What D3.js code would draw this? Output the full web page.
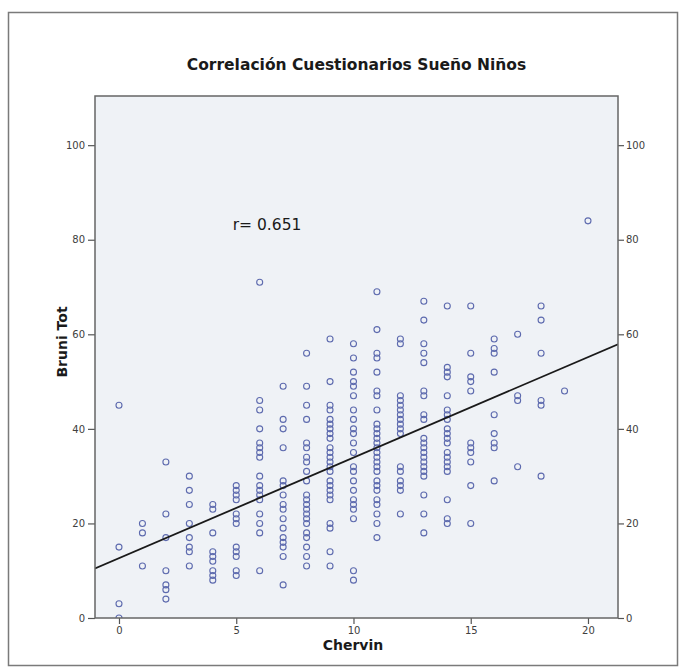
<!DOCTYPE html>
<html>
<head>
<meta charset="utf-8">
<script src="https://cdn.jsdelivr.net/npm/d3@7"></script>
<style>
  html, body { margin: 0; padding: 0; background: #ffffff; }
  svg { display: block; }
  .tick text { font-family: "DejaVu Sans", sans-serif; font-size: 10px; fill: #404040; }
</style>
</head>
<body>
<svg id="chart" width="686" height="669"></svg>
<script>
// Chervin score levels (x) and the Bruni Tot scores observed at each level (y)
const chervinLevels = [0, 1, 2, 3, 4, 5, 6, 7, 8, 9, 10, 11, 12, 13, 14, 15, 16, 17, 18, 19, 20];
const bruniByChervin = [
  [45, 15, 3, 0],
  [20, 18, 11],
  [33, 22, 17, 10, 7, 6, 4],
  [30, 27, 24, 20, 17, 15, 14, 11],
  [24, 23, 18, 14, 13, 12, 10, 9, 8],
  [28, 27, 26, 25, 22, 21, 20, 15, 14, 13, 10, 9],
  [71, 46, 44, 40, 37, 36, 35, 34, 30, 28, 27, 26, 25, 22, 20, 18, 10],
  [49, 42, 40, 36, 29, 28, 26, 24, 23, 21, 19, 17, 16, 15, 13, 7],
  [56, 49, 45, 42, 37, 36, 34, 33, 31, 29, 26, 25, 24, 23, 22, 21, 20, 18, 17, 15, 13, 11],
  [59, 50, 45, 44, 42, 41, 40, 39, 38, 36, 35, 34, 33, 32, 31, 29, 28, 27, 26, 25, 20, 19, 14, 11],
  [58, 55, 52, 50, 49, 47, 44, 42, 40, 39, 37, 35, 32, 31, 29, 27, 25, 24, 23, 21, 10, 8],
  [69, 61, 56, 55, 52, 48, 47, 44, 41, 40, 39, 38, 37, 36, 35, 34, 33, 32, 31, 29, 28, 27, 25, 24, 22, 20, 17],
  [59, 58, 47, 46, 45, 44, 43, 42, 41, 40, 39, 32, 31, 29, 28, 27, 22],
  [67, 63, 58, 56, 54, 48, 47, 43, 42, 38, 37, 36, 35, 34, 33, 32, 31, 30, 26, 22, 18],
  [66, 53, 52, 51, 47, 44, 43, 42, 40, 39, 38, 37, 35, 34, 33, 32, 31, 25, 21, 20],
  [66, 56, 51, 50, 48, 37, 36, 35, 33, 28, 20],
  [59, 57, 56, 52, 43, 39, 37, 36, 29],
  [60, 47, 46, 32],
  [66, 63, 56, 46, 45, 30],
  [48],
  [84]
];

// Axis ticks and labels
const xTicks = [0, 5, 10, 15, 20];
const yTicks = [0, 20, 40, 60, 80, 100];
const titleText = "Correlación Cuestionarios Sueño Niños";
const xTitle = "Chervin";
const yTitle = "Bruni Tot";
const rLabel = "r= 0.651";

const points = chervinLevels.flatMap((c, i) => bruniByChervin[i].map(b => ({ x: c, y: b })));

const svg = d3.select("#chart");
const plot = { left: 95, right: 618, top: 96, bottom: 618 };

// Scales
const x = d3.scaleLinear().domain([-1.023, 21.28]).range([plot.left, plot.right]);
const y = d3.scaleLinear().domain([0, 110.4]).range([plot.bottom, plot.top]);

// Outer frame
svg.append("rect")
  .attr("x", 8.5).attr("y", 12.5)
  .attr("width", 669).attr("height", 653)
  .attr("fill", "#fff").attr("stroke", "#7a7a7a").attr("stroke-width", 1.5);

// Title
svg.append("text")
  .attr("x", (plot.left + plot.right) / 2).attr("y", 70)
  .attr("text-anchor", "middle")
  .attr("font-family", "DejaVu Sans, sans-serif")
  .attr("font-weight", "bold").attr("font-size", 15.5)
  .attr("fill", "#1a1a1a")
  .text(titleText);

// Plot background
svg.append("rect")
  .attr("x", plot.left).attr("y", plot.top)
  .attr("width", plot.right - plot.left).attr("height", plot.bottom - plot.top)
  .attr("fill", "#eff2f6");

svg.append("defs").append("clipPath").attr("id", "plotClip")
  .append("rect")
  .attr("x", plot.left).attr("y", plot.top)
  .attr("width", plot.right - plot.left).attr("height", plot.bottom - plot.top);

// Least-squares fit line
const mx = d3.mean(points, d => d.x), my = d3.mean(points, d => d.y);
const sxy = d3.sum(points, d => (d.x - mx) * (d.y - my));
const sxx = d3.sum(points, d => (d.x - mx) ** 2);
const slope = sxy / sxx, intercept = my - slope * mx;
const [x0, x1] = x.domain();

// Points
svg.append("g").attr("clip-path", "url(#plotClip)")
  .selectAll("circle").data(points).join("circle")
  .attr("cx", d => x(d.x)).attr("cy", d => y(d.y))
  .attr("r", 3)
  .attr("fill", "none")
  .attr("stroke", "#5d6aae")
  .attr("stroke-width", 1.1);

svg.append("g").attr("clip-path", "url(#plotClip)")
  .append("line")
  .attr("x1", x(x0)).attr("y1", y(intercept + slope * x0))
  .attr("x2", x(x1)).attr("y2", y(intercept + slope * x1))
  .attr("stroke", "#1a1a1a").attr("stroke-width", 1.8);

// Axes
const styleAxis = g => {
  g.select(".domain").remove();
  g.selectAll(".tick line").attr("stroke", "#555").attr("stroke-width", 1.2);
};
svg.append("g").attr("transform", `translate(${plot.left},0)`)
  .call(d3.axisLeft(y).tickValues(yTicks).tickSize(7).tickPadding(3))
  .call(styleAxis);
svg.append("g").attr("transform", `translate(${plot.right},0)`)
  .call(d3.axisRight(y).tickValues(yTicks).tickSize(6).tickPadding(2))
  .call(styleAxis);
svg.append("g").attr("transform", `translate(0,${plot.bottom})`)
  .call(d3.axisBottom(x).tickValues(xTicks).tickSize(6).tickPadding(3))
  .call(styleAxis);

// Plot frame
svg.append("rect")
  .attr("x", plot.left).attr("y", plot.top)
  .attr("width", plot.right - plot.left).attr("height", plot.bottom - plot.top)
  .attr("fill", "none").attr("stroke", "#666").attr("stroke-width", 1.5);

// Axis titles
svg.append("text")
  .attr("x", 353).attr("y", 650)
  .attr("text-anchor", "middle")
  .attr("font-family", "DejaVu Sans, sans-serif")
  .attr("font-weight", "bold").attr("font-size", 14)
  .attr("fill", "#1a1a1a")
  .text(xTitle);

svg.append("text")
  .attr("transform", "translate(67,342) rotate(-90)")
  .attr("text-anchor", "middle")
  .attr("font-family", "DejaVu Sans, sans-serif")
  .attr("font-weight", "bold").attr("font-size", 14)
  .attr("fill", "#1a1a1a")
  .text(yTitle);

// Correlation annotation
svg.append("text")
  .attr("x", x(4.85)).attr("y", y(82))
  .attr("font-family", "DejaVu Sans, sans-serif")
  .attr("font-size", 15.5)
  .attr("fill", "#1a1a1a")
  .text(rLabel);
</script>
</body>
</html>
